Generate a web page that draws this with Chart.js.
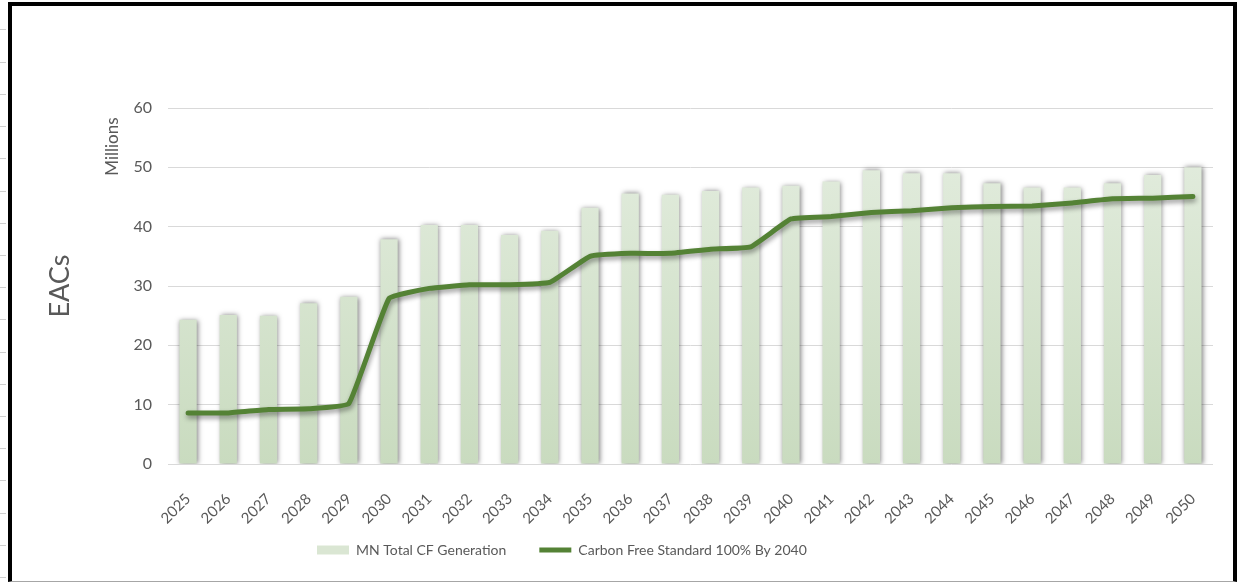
<!DOCTYPE html>
<html>
<head>
<meta charset="utf-8">
<title>EACs</title>
<script src="https://cdn.jsdelivr.net/npm/chart.js@4.4.1/dist/chart.umd.min.js"></script>
<style>
    html, body { margin: 0; padding: 0; background: #fff; }
    body { width: 1238px; height: 583px; position: relative; overflow: hidden; }
    /* row marks of the sheet to the left of the chart frame */
    #rows {
        position: absolute; left: 0; top: 0; width: 6px; height: 583px;
        background: repeating-linear-gradient(to bottom, transparent 0, transparent 29.5px, #cfcfcf 29.5px, #cfcfcf 30.5px, transparent 30.5px, transparent 32.2px);
    }
    #frame {
        position: absolute; left: 8px; top: 2px; width: 1221px; height: 575px;
        border-left: 4px solid #000; border-top: 4px solid #000; border-right: 4px solid #000;
        border-bottom: 1px solid #a6a6a6;
    }
    #chart { position: absolute; left: 0; top: 0; }
</style>
</head>
<body>
<div id="rows"></div>
<div id="frame"></div>
<canvas id="chart" width="1238" height="583"></canvas>
<script>
// سال‌ها و مقادیر (میلیون)
const years = ['2025', '2026', '2027', '2028', '2029', '2030', '2031', '2032', '2033', '2034', '2035', '2036', '2037',
    '2038', '2039', '2040', '2041', '2042', '2043', '2044', '2045', '2046', '2047', '2048', '2049', '2050'];
const totalCfGeneration = [24.3, 25.1, 25.0, 27.1, 28.2, 37.9, 40.3, 40.3, 38.6, 39.3, 43.2, 45.6, 45.4,
    46.0, 46.6, 46.9, 47.6, 49.5, 49.0, 49.0, 47.3, 46.6, 46.6, 47.3, 48.7, 50.0];
const carbonFreeStandard = [8.6, 8.6, 9.2, 9.3, 10.2, 27.9, 29.6, 30.2, 30.2, 30.6, 35.0, 35.5, 35.5,
    36.2, 36.6, 41.3, 41.7, 42.4, 42.7, 43.2, 43.4, 43.5, 44.0, 44.7, 44.8, 45.1];
const yTickValues = [0, 10, 20, 30, 40, 50, 60];

const seriesNames = ['MN Total CF Generation', 'Carbon Free Standard 100% By 2040'];
const textColor = '#595959';
const lineGreen = '#548235';

Chart.defaults.font.family = 'Lato, "Open Sans", sans-serif';
Chart.defaults.color = textColor;

// سایه برای ستون‌ها و خط
const shadowPlugin = {
    id: 'shadow',
    beforeDatasetDraw(chart, args) {
        const c = chart.ctx;
        c.save();
        if (args.meta.type === 'bar') {
            c.shadowColor = 'rgba(0,0,0,0.5)';
            c.shadowBlur = 5;
            c.shadowOffsetX = 1;
            c.shadowOffsetY = 0;
        } else {
            c.shadowColor = 'rgba(0,0,0,0.4)';
            c.shadowBlur = 5;
            c.shadowOffsetX = 1;
            c.shadowOffsetY = 3;
        }
    },
    afterDatasetDraw(chart) {
        chart.ctx.restore();
    }
};

// برچسب واحد نمایش
const unitsLabel = {
    id: 'unitsLabel',
    afterDraw(chart) {
        const c = chart.ctx;
        const y = chart.scales.y;
        c.save();
        c.translate(y.right - 55, y.getPixelForValue(53.5));
        c.rotate(-Math.PI / 2);
        c.font = '17px Lato, sans-serif';
        c.fillStyle = textColor;
        c.textAlign = 'center';
        c.textBaseline = 'middle';
        c.fillText('Millions', 0, 0);
        c.restore();
    }
};

// جای راهنما زیر نمودار
const legendPlace = {
    id: 'legendPlace',
    afterLayout(chart) {
        const lg = chart.legend;
        const pad = lg.options.labels.padding;
        const w = lg.right - lg.left;
        lg.left = 317 - pad;
        lg.right = lg.left + w;
        lg.top -= 16;
        lg.bottom -= 16;
    }
};

new Chart(document.getElementById('chart'), {
    type: 'bar',
    data: {
        labels: years,
        datasets: [{
            label: seriesNames[0],
            data: totalCfGeneration,
            order: 1,
            backgroundColor: function(ctx) {
                const area = ctx.chart.chartArea;
                if (!area) return '#dae6d3';
                const g = ctx.chart.ctx.createLinearGradient(0, area.top, 0, area.bottom);
                g.addColorStop(0, '#e5eee1');
                g.addColorStop(1, '#c9dbbf');
                return g;
            },
            borderWidth: 0,
            barPercentage: 0.43,
            categoryPercentage: 1
        }, {
            type: 'line',
            label: seriesNames[1],
            data: carbonFreeStandard,
            order: 0,
            borderColor: lineGreen,
            backgroundColor: lineGreen,
            borderWidth: 5,
            tension: 0.1,
            pointRadius: 0,
            borderCapStyle: 'round',
            borderJoinStyle: 'round'
        }]
    },
    options: {
        responsive: false,
        animation: false,
        layout: { padding: { top: 108, right: 25, bottom: 0, left: 0 } },
        scales: {
            x: {
                grid: { display: false },
                border: { display: false },
                ticks: { maxRotation: 45, minRotation: 45, padding: 18, font: { size: 15 } },
                afterFit: function(scale) {
                    scale.height = 583 - 464 - scale.chart.legend.height;
                }
            },
            y: {
                min: 0,
                max: 60,
                afterBuildTicks: function(scale) {
                    scale.ticks = yTickValues.map(v => ({ value: v }));
                },
                grid: { color: '#d9d9d9', drawTicks: false },
                border: { display: false },
                ticks: { padding: 16, font: { size: 16 } },
                title: { display: true, text: 'EACs', font: { size: 27 }, padding: { top: 44, bottom: 0 } },
                afterFit: function(scale) {
                    scale.width = 168;
                }
            }
        },
        plugins: {
            legend: {
                position: 'bottom',
                align: 'start',
                labels: {
                    usePointStyle: true,
                    pointStyleWidth: 32,
                    boxHeight: 9,
                    padding: 33,
                    font: { size: 14 },
                    color: textColor,
                    sort: (a, b) => a.datasetIndex - b.datasetIndex,
                    generateLabels: function(chart) {
                        const items = Chart.defaults.plugins.legend.labels.generateLabels(chart);
                        items.forEach(it => {
                            if (it.datasetIndex === 0) {
                                it.pointStyle = 'rect';
                                it.fillStyle = '#dae6d3';
                                it.lineWidth = 0;
                            } else {
                                it.pointStyle = 'line';
                                it.strokeStyle = lineGreen;
                                it.lineWidth = 5;
                            }
                        });
                        return items;
                    }
                }
            },
            tooltip: { enabled: false }
        }
    },
    plugins: [shadowPlugin, unitsLabel, legendPlace]
});
</script>
</body>
</html>
